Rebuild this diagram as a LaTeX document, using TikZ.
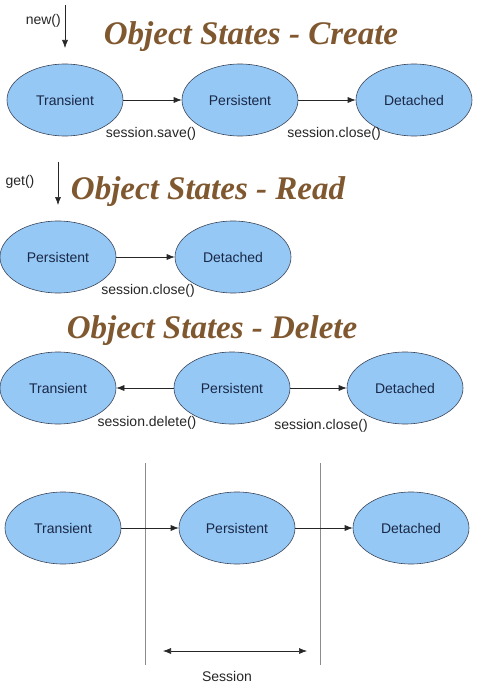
\documentclass[tikz,border=0pt]{standalone}
\usepackage{fontspec}
\setmainfont{Liberation Sans}
\newfontfamily\titlefont{Liberation Serif}
\usetikzlibrary{shapes.geometric,arrows.meta}
\definecolor{statefill}{RGB}{150,200,245}
\definecolor{statedraw}{RGB}{60,70,90}
\definecolor{statetext}{RGB}{25,40,70}
\definecolor{titlebrown}{RGB}{128,88,48}
\tikzset{
  state/.style={ellipse, draw=statedraw, fill=statefill, line width=0.6pt,
    minimum width=116pt, minimum height=72pt, inner sep=0pt,
    text=statetext, font=\fontsize{14}{16}\selectfont},
  conn/.style={-{Latex[length=8pt,width=6pt]}, line width=0.6pt, black!85},
  lbl/.style={font=\fontsize{14}{16}\selectfont, text=black!85, inner sep=0pt},
  ttl/.style={font=\titlefont\bfseries\itshape\fontsize{33}{37}\selectfont, text=titlebrown, inner sep=0pt},
  sep/.style={line width=0.8pt, black!45}
}
\begin{document}
\begin{tikzpicture}[x=1pt,y=-1pt]
\useasboundingbox (0,0) rectangle (483,687);
\fill[white] (0,0) rectangle (483,687);
% Section 1: Create
\node[ttl] (t1) at (251,37) {Object States - Create};
\node[lbl, anchor=east] (new) at (61,21) {new()};
\coordinate (n0) at (65,5);
\coordinate (n1) at (65,48);
\draw[conn] (n0) -- (n1);
\node[state] (c1) at (65,100) {Transient};
\node[state] (c2) at (240,100) {Persistent};
\node[state] (c3) at (414,100) {Detached};
\draw[conn] (c1) -- (c2);
\draw[conn] (c2) -- (c3);
\node[lbl] (l1) at (151,134) {session.save()};
\node[lbl] (l2) at (334,134) {session.close()};
% Section 2: Read
\node[ttl] (t2) at (208,192) {Object States - Read};
\node[lbl] (get) at (20,182) {get()};
\coordinate (g0) at (58,162);
\coordinate (g1) at (58,205);
\draw[conn] (g0) -- (g1);
\node[state] (r1) at (58,257) {Persistent};
\node[state] (r2) at (233,257) {Detached};
\draw[conn] (r1) -- (r2);
\node[lbl] (l3) at (148,291) {session.close()};
% Section 3: Delete
\node[ttl] (t3) at (212,331) {Object States - Delete};
\node[state] (d1) at (58,388) {Transient};
\node[state] (d2) at (232,388) {Persistent};
\node[state] (d3) at (405,388) {Detached};
\draw[conn] (d2) -- (d1);
\draw[conn] (d2) -- (d3);
\node[lbl] (l4) at (147,423) {session.delete()};
\node[lbl] (l5) at (321,426) {session.close()};
% Section 4: Session
\coordinate (v1a) at (145,463);
\coordinate (v1b) at (145,665);
\coordinate (v2a) at (320,463);
\coordinate (v2b) at (320,665);
\draw[sep] (v1a) -- (v1b);
\draw[sep] (v2a) -- (v2b);
\node[state] (s1) at (63,528) {Transient};
\node[state] (s2) at (237,528) {Persistent};
\node[state] (s3) at (411,528) {Detached};
\draw[conn] (s1) -- (s2);
\draw[conn] (s2) -- (s3);
\coordinate (sa) at (163,651);
\coordinate (sb) at (307,651);
\draw[{Latex[length=8pt,width=6pt]}-{Latex[length=8pt,width=6pt]}, line width=0.6pt, black!85] (sa) -- (sb);
\node[lbl] (sess) at (227,676) {Session};
\end{tikzpicture}
\end{document}
